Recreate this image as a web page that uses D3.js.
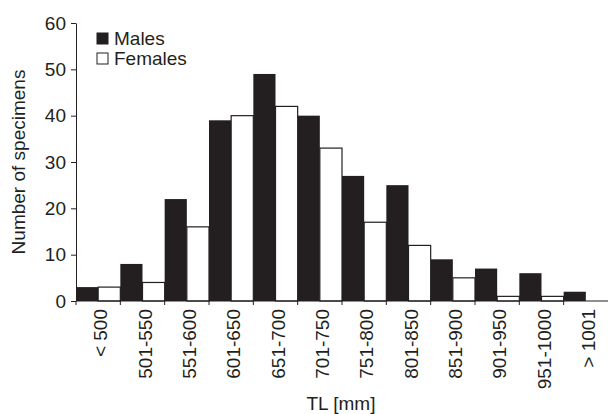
<!DOCTYPE html>
<html>
<head>
<meta charset="utf-8">
<script src="https://cdn.jsdelivr.net/npm/d3@7"></script>
<style>
  body { margin: 0; background: #fff; }
  text { font-family: "Liberation Sans", Arial, sans-serif; fill: #231f20; }
</style>
</head>
<body>
<svg id="chart" width="608" height="414"></svg>
<script>
const categories = ["< 500", "501-550", "551-600", "601-650", "651-700", "701-750",
  "751-800", "801-850", "851-900", "901-950", "951-1000", "> 1001"];
const males = [3, 8, 22, 39, 49, 40, 27, 25, 9, 7, 6, 2];
const females = [3, 4, 16, 40, 42, 33, 17, 12, 5, 1, 1, 0];
const yTicks = [0, 10, 20, 30, 40, 50, 60];

const svg = d3.select("#chart");
const margin = { top: 23, right: 0, bottom: 113, left: 76 };
const width = 608;
const height = 414;
const fontSize = "19px";

const x = d3.scaleBand()
  .domain(categories)
  .range([margin.left, width - margin.right])
  .padding(0);

const y = d3.scaleLinear()
  .domain([0, 60])
  .range([height - margin.bottom, margin.top]);

const half = x.bandwidth() / 2;

// Males (black bars, left half of each class)
svg.selectAll(".male")
  .data(males)
  .join("rect")
  .attr("class", "male")
  .attr("x", (d, i) => x(categories[i]))
  .attr("y", d => y(d))
  .attr("width", half)
  .attr("height", d => y(0) - y(d))
  .attr("fill", "#231f20");

// Females (white bars, right half)
svg.selectAll(".female")
  .data(females)
  .join("rect")
  .attr("class", "female")
  .attr("x", (d, i) => x(categories[i]) + half)
  .attr("y", d => y(d))
  .attr("width", half)
  .attr("height", d => y(0) - y(d))
  .attr("fill", "#fff")
  .attr("stroke", "#231f20")
  .attr("stroke-width", 1.2);

// Y axis
const yAxis = svg.append("g")
  .attr("transform", `translate(${margin.left},0)`)
  .call(d3.axisLeft(y).tickValues(yTicks).tickSize(5).tickPadding(5).tickSizeOuter(0));
yAxis.selectAll("text").style("font-size", fontSize).attr("fill", "#231f20");
yAxis.selectAll("line, path").attr("stroke", "#231f20");

// X axis: ticks at class boundaries
const boundaries = categories.map(c => x(c));
const xg = svg.append("g");
xg.append("line")
  .attr("x1", margin.left).attr("x2", width)
  .attr("y1", y(0)).attr("y2", y(0))
  .attr("stroke", "#231f20").attr("stroke-width", 1.2);
xg.selectAll(".xtick")
  .data(boundaries)
  .join("line")
  .attr("x1", d => d).attr("x2", d => d)
  .attr("y1", y(0)).attr("y2", y(0) + 4)
  .attr("stroke", "#231f20");
xg.selectAll(".xlabel")
  .data(categories)
  .join("text")
  .attr("transform", d => `translate(${x(d) + half + 9},${y(0) + 8}) rotate(-90)`)
  .attr("text-anchor", "end")
  .style("font-size", fontSize)
  .text(d => d);

// Axis titles
svg.append("text")
  .attr("x", 341).attr("y", 410)
  .attr("text-anchor", "middle")
  .style("font-size", fontSize)
  .text("TL [mm]");

svg.append("text")
  .attr("transform", "translate(25,162) rotate(-90)")
  .attr("text-anchor", "middle")
  .style("font-size", fontSize)
  .text("Number of specimens");

// Legend
const legend = svg.append("g").attr("transform", "translate(97,33)");
const legendItems = [["Males", "#231f20"], ["Females", "#fff"]];
legendItems.forEach(([label, fill], i) => {
  const g = legend.append("g").attr("transform", `translate(0,${i * 20})`);
  g.append("rect")
    .attr("width", 11).attr("height", 11)
    .attr("fill", fill).attr("stroke", "#231f20");
  g.append("text")
    .attr("x", 17).attr("y", 12)
    .style("font-size", fontSize)
    .text(label);
});
</script>
</body>
</html>
